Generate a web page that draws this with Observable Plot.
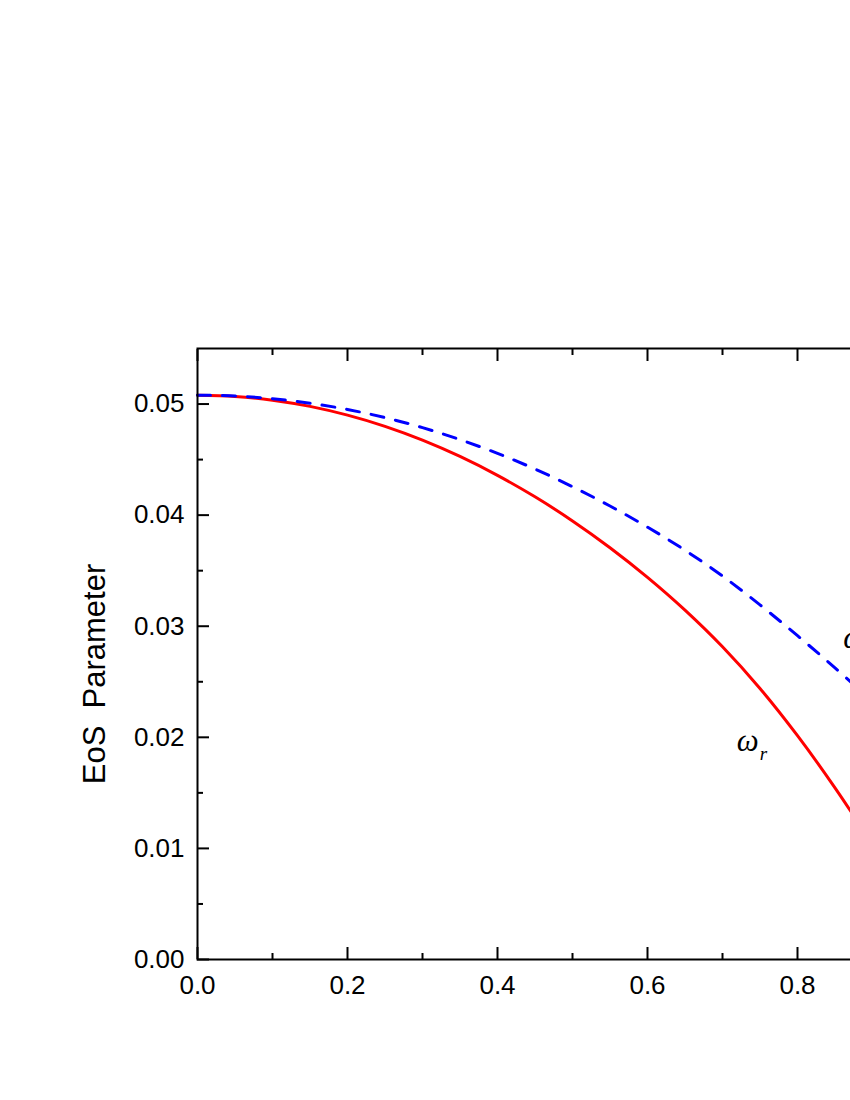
<!DOCTYPE html>
<html>
<head>
<meta charset="utf-8">
<script src="https://cdn.jsdelivr.net/npm/d3@7"></script>
<script src="https://cdn.jsdelivr.net/npm/@observablehq/plot@0.6"></script>
<style>
  html, body { margin: 0; padding: 0; background: #fff; overflow: hidden; width: 850px; height: 1100px; }
  #chart { width: 850px; height: 1100px; overflow: hidden; }
  #chart svg { max-width: none !important; display: block; }
</style>
</head>
<body>
<div id="chart"></div>
<script>
// ---- data ----
const r = [0.0, 0.05, 0.1, 0.15, 0.2, 0.25, 0.3, 0.35, 0.4, 0.45, 0.5, 0.55, 0.6, 0.65, 0.7, 0.75, 0.8, 0.85, 0.9];
const omegaR = [0.05080, 0.05069, 0.05035, 0.04979, 0.04900, 0.04799, 0.04675, 0.04528, 0.04358, 0.04165, 0.03948, 0.03707, 0.03440, 0.03145, 0.02815, 0.02440, 0.02015, 0.01545, 0.01035];
const omegaT = [0.05080, 0.05072, 0.05048, 0.05008, 0.04951, 0.04878, 0.04788, 0.04680, 0.04556, 0.04415, 0.04256, 0.04082, 0.03892, 0.03684, 0.03452, 0.03192, 0.02915, 0.02625, 0.02320];
const xMajorTicks = [0.0, 0.2, 0.4, 0.6, 0.8, 1.0];
const xMinorTicks = [0.1, 0.3, 0.5, 0.7, 0.9];
const yMajorTicks = [0.00, 0.01, 0.02, 0.03, 0.04, 0.05];
const yMinorTicks = [0.005, 0.015, 0.025, 0.035, 0.045];
const yLabel = "EoS\u00a0 Parameter";
const curveLabels = [
  {name: "ω", sub: "r", x: 0.719, y: 0.0188},
  {name: "ω", sub: "t", x: 0.861, y: 0.0280}
];

const rows = r.map((x, i) => ({x, wr: omegaR[i], wt: omegaT[i]}));

const serif = "'Times New Roman', 'Liberation Serif', 'DejaVu Serif', serif";

const chart = Plot.plot({
  width: 1047,
  height: 1100,
  marginLeft: 197,
  marginRight: 100,
  marginTop: 348,
  marginBottom: 141,
  style: {fontFamily: "Arial, 'Liberation Sans', sans-serif", fontSize: "26px", background: "#fff", color: "#000", maxWidth: "none"},
  x: {domain: [0, 1]},
  y: {domain: [0, 0.055]},
  marks: [
    // curves
    Plot.line(rows, {x: "x", y: "wr", stroke: "#ff0000", strokeWidth: 3, curve: "catmull-rom"}),
    Plot.line(rows, {x: "x", y: "wt", stroke: "#0000ff", strokeWidth: 3, strokeDasharray: "13,12", curve: "catmull-rom"}),
    // curve labels
    Plot.text(curveLabels, {x: "x", y: "y", text: "name", textAnchor: "start", lineAnchor: "bottom",
      fontFamily: serif, fontStyle: "italic", fontSize: 31, fill: "#000"}),
    Plot.text(curveLabels, {x: "x", y: "y", text: "sub", textAnchor: "start", lineAnchor: "bottom", dx: 23, dy: 9,
      fontFamily: serif, fontStyle: "italic", fontSize: 19, fill: "#000"}),
    // axes: labels
    Plot.axisX(xMajorTicks, {anchor: "bottom", tickSize: 0, tickPadding: 16, tickFormat: d3.format(".1f"), label: null, fontSize: 26}),
    Plot.axisY(yMajorTicks, {anchor: "left", tickSize: 0, tickPadding: 13, tickFormat: d3.format(".2f"), label: null, fontSize: 26}),
    // inward ticks, bottom & top
    Plot.axisX(xMajorTicks, {anchor: "bottom", tickSize: -12, text: null, label: null, strokeWidth: 2}),
    Plot.axisX(xMinorTicks, {anchor: "bottom", tickSize: -6, text: null, label: null, strokeWidth: 2}),
    Plot.axisX(xMajorTicks, {anchor: "top", tickSize: -12, text: null, label: null, strokeWidth: 2}),
    Plot.axisX(xMinorTicks, {anchor: "top", tickSize: -6, text: null, label: null, strokeWidth: 2}),
    // inward ticks, left & right
    Plot.axisY(yMajorTicks, {anchor: "left", tickSize: -12, text: null, label: null, strokeWidth: 2}),
    Plot.axisY(yMinorTicks, {anchor: "left", tickSize: -6, text: null, label: null, strokeWidth: 2}),
    Plot.axisY(yMajorTicks, {anchor: "right", tickSize: -12, text: null, label: null, strokeWidth: 2}),
    Plot.axisY(yMinorTicks, {anchor: "right", tickSize: -6, text: null, label: null, strokeWidth: 2}),
    // y axis title
    Plot.text([yLabel], {frameAnchor: "left", text: d => d, rotate: -90, dx: -93, dy: 20,
      textAnchor: "middle", lineAnchor: "bottom", fontSize: 31, fill: "#000"}),
    Plot.frame({stroke: "#000", strokeWidth: 2})
  ]
});

document.getElementById("chart").append(chart);
</script>
</body>
</html>
